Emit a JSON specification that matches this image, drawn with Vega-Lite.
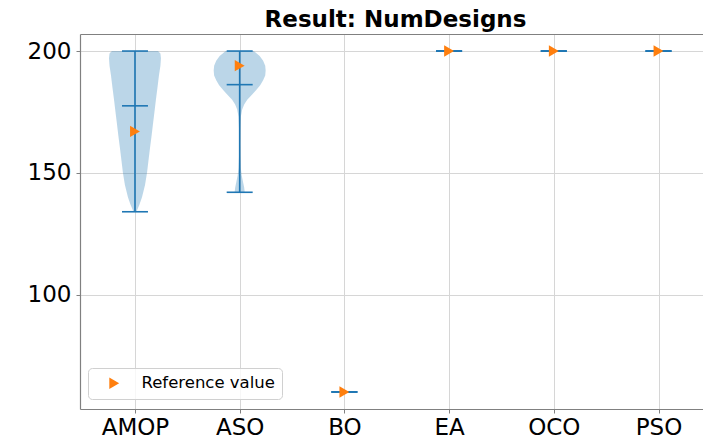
{
  "$schema": "https://vega.github.io/schema/vega-lite/v6.json",
  "width": 623,
  "height": 375,
  "autosize": {"type": "none"},
  "padding": {"left": 80, "top": 34, "right": 0, "bottom": 33},
  "background": "white",
  "title": {"text": "Result: NumDesigns", "font": "DejaVu Sans", "fontSize": 23, "fontWeight": "bold", "color": "black", "anchor": "middle", "offset": 2, "dx": 4},
  "config": {
    "view": {"stroke": null},
    "axis": {"labelFont": "DejaVu Sans", "labelFontSize": 23, "labelColor": "black", "domainColor": "#808080", "domainWidth": 1.2, "tickColor": "#808080", "tickSize": 4, "gridColor": "#d6d6d6", "gridWidth": 1, "title": null}
  },
  "datasets": {
    "violin": [
      {"m": "AMOP", "v": 200, "w": 0.22},
      {"m": "AMOP", "v": 199, "w": 0.243},
      {"m": "AMOP", "v": 197, "w": 0.248},
      {"m": "AMOP", "v": 194, "w": 0.243},
      {"m": "AMOP", "v": 190, "w": 0.229},
      {"m": "AMOP", "v": 185, "w": 0.215},
      {"m": "AMOP", "v": 180, "w": 0.2},
      {"m": "AMOP", "v": 175, "w": 0.186},
      {"m": "AMOP", "v": 170, "w": 0.172},
      {"m": "AMOP", "v": 165, "w": 0.158},
      {"m": "AMOP", "v": 160, "w": 0.143},
      {"m": "AMOP", "v": 155, "w": 0.129},
      {"m": "AMOP", "v": 150, "w": 0.115},
      {"m": "AMOP", "v": 145, "w": 0.096},
      {"m": "AMOP", "v": 140, "w": 0.067},
      {"m": "AMOP", "v": 137, "w": 0.043},
      {"m": "AMOP", "v": 134, "w": 0.014},
      {"m": "ASO", "v": 200, "w": 0.134},
      {"m": "ASO", "v": 198, "w": 0.191},
      {"m": "ASO", "v": 196, "w": 0.224},
      {"m": "ASO", "v": 194, "w": 0.244},
      {"m": "ASO", "v": 192, "w": 0.248},
      {"m": "ASO", "v": 190, "w": 0.244},
      {"m": "ASO", "v": 188, "w": 0.224},
      {"m": "ASO", "v": 186, "w": 0.196},
      {"m": "ASO", "v": 184, "w": 0.158},
      {"m": "ASO", "v": 182, "w": 0.115},
      {"m": "ASO", "v": 180, "w": 0.072},
      {"m": "ASO", "v": 178, "w": 0.043},
      {"m": "ASO", "v": 176, "w": 0.024},
      {"m": "ASO", "v": 173, "w": 0.011},
      {"m": "ASO", "v": 168, "w": 0.006},
      {"m": "ASO", "v": 162, "w": 0.004},
      {"m": "ASO", "v": 157, "w": 0.006},
      {"m": "ASO", "v": 152, "w": 0.011},
      {"m": "ASO", "v": 149, "w": 0.019},
      {"m": "ASO", "v": 146, "w": 0.033},
      {"m": "ASO", "v": 144, "w": 0.043},
      {"m": "ASO", "v": 142, "w": 0.048}
    ],
    "stats": [
      {"m": "AMOP", "min": 134, "max": 200, "median": 177.5, "ref": 167},
      {"m": "ASO", "min": 142, "max": 200, "median": 186.2, "ref": 194},
      {"m": "BO", "min": 60, "max": 60, "median": 60, "ref": 60},
      {"m": "EA", "min": 200, "max": 200, "median": 200, "ref": 200},
      {"m": "OCO", "min": 200, "max": 200, "median": 200, "ref": 200},
      {"m": "PSO", "min": 200, "max": 200, "median": 200, "ref": 200}
    ]
  },
  "layer": [
    {
      "data": {"name": "violin"},
      "transform": [
        {"calculate": "indexof(['AMOP','ASO','BO','EA','OCO','PSO'], datum.m) + 1", "as": "pos"},
        {"calculate": "datum.pos - datum.w", "as": "lo"},
        {"calculate": "datum.pos + datum.w", "as": "hi"}
      ],
      "mark": {"type": "area", "orient": "horizontal", "fill": "#1f77b4", "fillOpacity": 0.3, "strokeWidth": 0},
      "encoding": {
        "x": {"field": "lo", "type": "quantitative", "scale": {"domain": [0.475, 6.425], "nice": false, "zero": false},
              "axis": {"values": [1, 2, 3, 4, 5, 6], "labelExpr": "['AMOP','ASO','BO','EA','OCO','PSO'][datum.value - 1]", "grid": true, "labelPadding": 3, "labelFlush": false, "labelOverlap": false}},
        "x2": {"field": "hi"},
        "y": {"field": "v", "type": "quantitative", "scale": {"domain": [53, 207], "nice": false, "zero": false},
              "axis": {"values": [100, 150, 200], "grid": true, "labelPadding": 5}},
        "detail": {"field": "m"}
      }
    },
    {
      "data": {"name": "stats"},
      "transform": [
        {"calculate": "indexof(['AMOP','ASO','BO','EA','OCO','PSO'], datum.m) + 1", "as": "pos"}
      ],
      "mark": {"type": "rule", "color": "#1f77b4", "strokeWidth": 1.6},
      "encoding": {
        "x": {"field": "pos", "type": "quantitative", "axis": null},
        "y": {"field": "min", "type": "quantitative"},
        "y2": {"field": "max"}
      }
    },
    {
      "data": {"name": "stats"},
      "transform": [
        {"calculate": "indexof(['AMOP','ASO','BO','EA','OCO','PSO'], datum.m) + 1", "as": "pos"},
        {"fold": ["min", "max", "median"], "as": ["stat", "value"]}
      ],
      "mark": {"type": "tick", "orient": "horizontal", "color": "#1f77b4", "size": 26, "thickness": 1.6, "opacity": 1},
      "encoding": {
        "x": {"field": "pos", "type": "quantitative", "axis": {"orient": "top", "labels": false, "ticks": false, "grid": false, "domain": true}},
        "y": {"field": "value", "type": "quantitative"}
      }
    },
    {
      "data": {"name": "stats"},
      "transform": [
        {"calculate": "indexof(['AMOP','ASO','BO','EA','OCO','PSO'], datum.m) + 1", "as": "pos"}
      ],
      "mark": {"type": "point", "filled": true, "color": "#ff7f0e", "size": 130, "opacity": 1},
      "encoding": {
        "x": {"field": "pos", "type": "quantitative", "axis": null},
        "y": {"field": "ref", "type": "quantitative"},
        "shape": {"datum": "Reference value", "scale": {"range": ["triangle-right"]},
                  "legend": {"title": null, "orient": "none", "legendX": 8, "legendY": 334, "padding": 7,
                             "fillColor": "rgba(255,255,255,0.8)", "strokeColor": "#d0d0d0", "cornerRadius": 4,
                             "symbolSize": 130, "symbolFillColor": "#ff7f0e", "symbolStrokeColor": "#ff7f0e", "symbolStrokeWidth": 0,
                             "symbolOffset": 11, "labelOffset": 19, "labelFont": "DejaVu Sans", "labelFontSize": 16.5, "labelColor": "black", "labelLimit": 300}}
      }
    }
  ],
  "resolve": {"axis": {"x": "independent"}}
}
